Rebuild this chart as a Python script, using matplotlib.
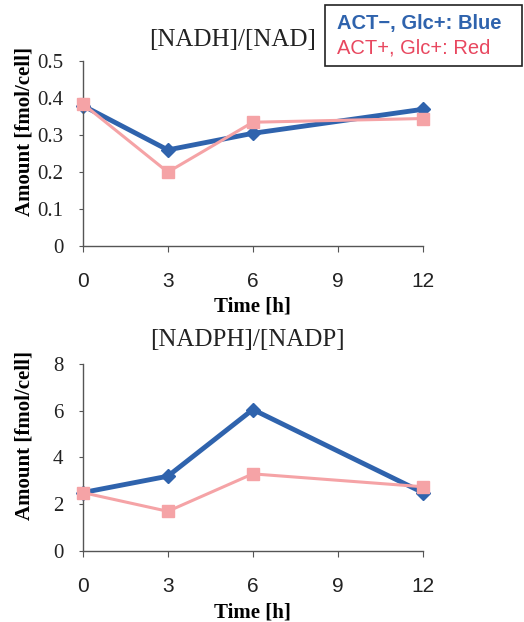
import numpy as np
import matplotlib.pyplot as plt

# time points [h]
time_h = [0, 3, 6, 12]

# [NADH]/[NAD]
nadh_blue = [0.38, 0.26, 0.305, 0.37]
nadh_red = [0.385, 0.20, 0.335, 0.345]

# [NADPH]/[NADP]
nadph_blue = [2.5, 3.2, 6.05, 2.5]
nadph_red = [2.5, 1.7, 3.3, 2.75]

xticks = [0, 3, 6, 9, 12]
yticks_top = [0, 0.1, 0.2, 0.3, 0.4, 0.5]
yticks_bot = [0, 2, 4, 6, 8]

blue = '#2f63ad'
pink = '#f5a3a6'
serif = 'Liberation Serif'
sans = 'Liberation Sans'

fig = plt.figure(figsize=(5.24, 6.22), dpi=100)
ax1 = fig.add_axes([0.158, 0.6045, 0.649, 0.297])
ax2 = fig.add_axes([0.158, 0.114, 0.649, 0.301])


def style(ax, yticks, ylabels):
    ax.set_xlim(0, 12)
    ax.set_ylim(yticks[0], yticks[-1])
    ax.set_xticks(xticks)
    ax.set_xticklabels([str(v) for v in xticks], fontfamily=sans, fontsize=15)
    ax.set_yticks(yticks)
    ax.set_yticklabels(ylabels, fontfamily=serif, fontsize=15)
    for s in ['top', 'right']:
        ax.spines[s].set_visible(False)
    for s in ['left', 'bottom']:
        ax.spines[s].set_color('#555555')
        ax.spines[s].set_linewidth(1.0)
    ax.tick_params(axis='x', direction='out', length=4, width=0.8, color='#555555', pad=15)
    ax.tick_params(axis='y', direction='out', length=3, width=0.8, color='#555555', pad=11)
    ax.set_ylabel('Amount [fmol/cell]', fontfamily=serif, fontweight='bold', fontsize=15)
    ax.yaxis.set_label_coords(-0.142, 0.62)
    ax.set_xlabel('Time [h]', fontfamily=serif, fontweight='bold', fontsize=15, labelpad=4)
    for lab in ax.get_xticklabels() + ax.get_yticklabels():
        lab.set_color('#222222')


ax1.plot(time_h, nadh_red, color=pink, lw=2.2, marker='s', ms=8, mfc=pink, mec=pink, clip_on=False, zorder=3)
ax1.plot(time_h, nadh_blue, color=blue, lw=3.5, marker='D', ms=7, mfc=blue, mec=blue, clip_on=False, zorder=2)
style(ax1, yticks_top, ['0', '0.1', '0.2', '0.3', '0.4', '0.5'])

ax2.plot(time_h, nadph_blue, color=blue, lw=3.5, marker='D', ms=7, mfc=blue, mec=blue, clip_on=False, zorder=2)
ax2.plot(time_h, nadph_red, color=pink, lw=2.2, marker='s', ms=8, mfc=pink, mec=pink, clip_on=False, zorder=3)
style(ax2, yticks_bot, ['0', '2', '4', '6', '8'])

fig.text(233 / 524, 1 - 40 / 622, '[NADH]/[NAD]', ha='center', va='center', fontfamily=serif, fontsize=18, color='#222222')
fig.text(247 / 524, 1 - 340 / 622, '[NADPH]/[NADP]', ha='center', va='center', fontfamily=serif, fontsize=18, color='#222222')

# legend box
box = plt.Rectangle((325 / 524, 1 - 66 / 622), 197 / 524, 61 / 622, transform=fig.transFigure,
                    fill=True, facecolor='white', edgecolor='#222222', lw=1.2)
fig.patches.append(box)
fig.text(337 / 524, 1 - 23 / 622, 'ACT\u2212, Glc+: Blue', ha='left', va='center', fontfamily=sans,
         fontweight='bold', fontsize=14.5, color=blue)
fig.text(337 / 524, 1 - 48 / 622, 'ACT+, Glc+: Red', ha='left', va='center', fontfamily=sans,
         fontsize=14.5, color='#e8475f')

plt.savefig('out.png', dpi=100)
